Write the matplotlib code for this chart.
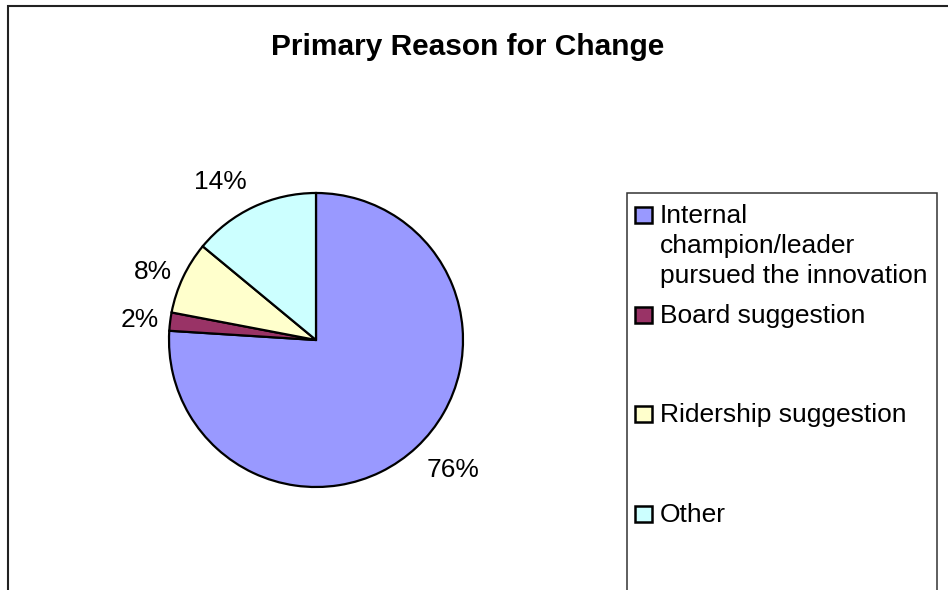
import numpy as np
import matplotlib
matplotlib.use("Agg")
import matplotlib.pyplot as plt
from matplotlib.patches import Rectangle

plt.rcParams["font.family"] = ["Liberation Sans", "DejaVu Sans"]

# data
categories = [
    "Internal\nchampion/leader\npursued the innovation",
    "Board suggestion",
    "Ridership suggestion",
    "Other",
]
shares = [76, 2, 8, 14]
colors = ["#9999FF", "#993366", "#FFFFCC", "#CCFFFF"]

W, H = 948, 590
fig = plt.figure(figsize=(W / 100, H / 100), dpi=100)


def fx(px):
    return px / W


def fy(py):
    return 1 - py / H


# outer chart frame (right and bottom edges run off the image)
fig.patches.append(Rectangle((fx(7.5), fy(H + 20)), fx(W + 20), (H + 20 - 6) / H,
                             transform=fig.transFigure, fill=False,
                             edgecolor="#222222", linewidth=1.5))

fig.text(fx(468), fy(55), "Primary Reason for Change", ha="center", va="baseline",
         fontsize=21.5, fontweight="bold")

# pie: centre (316, 340), radius 147 px
r_px = 147
side = r_px * 2 * 1.25
ax = fig.add_axes([fx(316 - side / 2), fy(340 + side / 2), side / W, side / H])
wedges, _ = ax.pie(shares, colors=colors, startangle=90, counterclock=False,
                   wedgeprops=dict(edgecolor="black", linewidth=1.6))
ax.set_xlim(-1.25, 1.25)
ax.set_ylim(-1.25, 1.25)
ax.set_aspect("equal")

# percentage labels, Excel-style corner anchoring just outside the pie
for w, v in zip(wedges, shares):
    th = np.deg2rad((w.theta1 + w.theta2) / 2)
    c, s = np.cos(th), np.sin(th)
    ha = "left" if c > 0 else "right"
    dist = 1.1
    if s < -0.5:
        va = "top"
    elif s > 0.5:
        va = "bottom"
    else:
        va = "center"
        dist = 1.08
    ax.text(dist * c, dist * s, f"{v}%", ha=ha, va=va, fontsize=19)

# legend box drawn by hand (entries on a fixed 100 px pitch)
fig.patches.append(Rectangle((fx(627), fy(H + 20)), fx(937 - 627), (H + 20 - 193) / H,
                             transform=fig.transFigure, fill=False,
                             edgecolor="#333333", linewidth=1.1))
for i, (lab, col) in enumerate(zip(categories, colors)):
    yc = 215 + 99.5 * i
    fig.patches.append(Rectangle((fx(635), fy(yc + 8)), fx(17), 16 / H,
                                 transform=fig.transFigure, facecolor=col,
                                 edgecolor="black", linewidth=1.8))
    fig.text(fx(660), fy(yc - 11), lab, ha="left", va="top", fontsize=19,
             linespacing=1.31)

fig.savefig("out.png", dpi=100)
